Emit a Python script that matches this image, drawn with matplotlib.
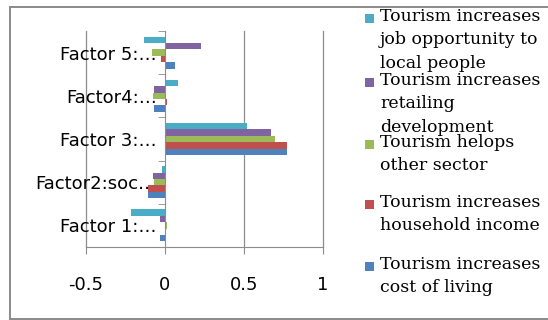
import matplotlib
matplotlib.use("Agg")
import matplotlib.pyplot as plt
from matplotlib.patches import Rectangle
import numpy as np

# Factor categories (bottom to top on the axis)
categories = ["Factor 1:\u2026", "Factor2:soc\u2026", "Factor 3:\u2026", "Factor4:\u2026", "Factor 5:\u2026"]

# Loadings per statement, one value per factor (Factor 1 .. Factor 5)
cost_of_living = [-0.032, -0.105, 0.770, -0.070, 0.061]
household_income = [0.003, -0.105, 0.770, 0.010, -0.025]
helps_other_sector = [0.010, -0.068, 0.696, -0.076, -0.084]
retailing_development = [-0.032, -0.076, 0.668, -0.070, 0.230]
job_opportunity = [-0.215, -0.019, 0.521, 0.082, -0.133]

series = [cost_of_living, household_income, helps_other_sector,
          retailing_development, job_opportunity]
series_labels = [
    "Tourism increases\ncost of living",
    "Tourism increases\nhousehold income",
    "Tourism helops\nother sector",
    "Tourism increases\nretailing\ndevelopment",
    "Tourism increases\njob opportunity to\nlocal people",
]
colors = ["#4F81BD", "#C0504D", "#9BBB59", "#8064A2", "#4BACC6"]

x_ticks = [-0.5, 0, 0.5, 1]
x_tick_labels = ["-0.5", "0", "0.5", "1"]

W, H = 548, 320
fig = plt.figure(figsize=(W / 100, H / 100), dpi=100)
fig.patch.set_facecolor("white")

# Outer chart frame (open on the right)
frame_col = "#8a8a8a"
x0, y_top, y_bot = 10 / W, 1 - 7 / H, 1 - 319 / H
fig.add_artist(plt.Line2D([x0, 1.0], [y_top, y_top], transform=fig.transFigure,
                          color=frame_col, linewidth=1.4))
fig.add_artist(plt.Line2D([x0, 1.0], [y_bot, y_bot], transform=fig.transFigure,
                          color=frame_col, linewidth=1.4))
fig.add_artist(plt.Line2D([x0, x0], [y_bot, y_top], transform=fig.transFigure,
                          color=frame_col, linewidth=1.4))

ax = fig.add_axes([86 / W, 1 - 247 / H, (323 - 86) / W, (247 - 31) / H])

y = np.arange(len(categories))
bar_h = 0.148
n = len(series)
for i, (vals, col) in enumerate(zip(series, colors)):
    offs = (i - (n - 1) / 2) * bar_h
    ax.barh(y + offs, vals, height=bar_h, color=col, edgecolor="none", zorder=3)

ax.set_xlim(-0.5, 1)
ax.set_ylim(-0.5, len(categories) - 0.5)

grid_col = "#8c8c8c"
for xv in [-0.5, 0.5, 1]:
    ax.axvline(xv, color=grid_col, linewidth=0.9, zorder=1, clip_on=False)

for s in ["top", "right"]:
    ax.spines[s].set_visible(False)
ax.spines["left"].set_position(("data", 0))
ax.spines["left"].set_color(grid_col)
ax.spines["left"].set_zorder(4)
ax.spines["bottom"].set_color(grid_col)

ax.set_xticks(x_ticks)
ax.set_xticklabels(x_tick_labels)
ax.tick_params(axis="x", direction="out", length=5, color=grid_col,
               pad=16, labelsize=13)

ax.set_yticks(y)
ax.set_yticklabels(categories)
ax.set_yticks(np.arange(len(categories) + 1) - 0.5, minor=True)
ax.tick_params(axis="y", which="major", length=0, pad=6, labelsize=13)
ax.tick_params(axis="y", which="minor", direction="out", length=5, color=grid_col)

# Legend, top entry first
legend_rows = [18, 82, 144, 204, 266]
for row, lab, col in zip(legend_rows, series_labels[::-1], colors[::-1]):
    fig.patches.append(Rectangle((365 / W, 1 - (row + 4.5) / H), 9 / W, 9 / H,
                                 transform=fig.transFigure, facecolor=col,
                                 edgecolor="none"))
    fig.text(380 / W, 1 - (row - 10) / H, lab, ha="left", va="top",
             fontsize=12.5, family="DejaVu Serif", linespacing=1.5)

fig.savefig("out.png", dpi=100)
